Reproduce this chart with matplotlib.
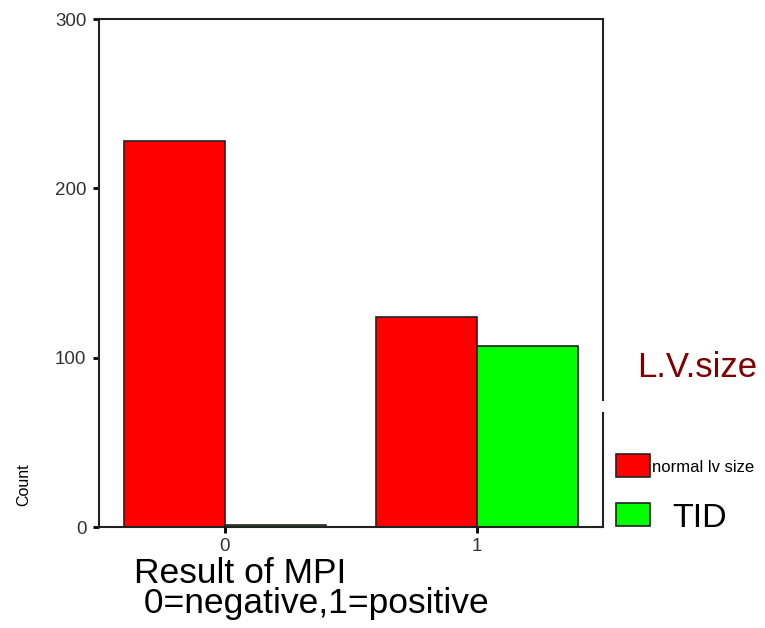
import matplotlib.pyplot as plt
import numpy as np

plt.rcParams['font.family'] = ['Liberation Sans', 'DejaVu Sans']

# data
categories = ['0', '1']
normal_lv = [228, 124]
tid = [1, 107]
series_names = ['normal lv size', 'TID']
series_colors = ['#ff0000', '#00ff00']

fig = plt.figure(figsize=(7.65, 6.28), dpi=100)
ax = fig.add_axes([0.1294, 0.1608, 0.6588, 0.8089])

x = np.arange(len(categories))
w = 0.4
ax.bar(x - w / 2, normal_lv, w, color=series_colors[0], edgecolor='#222222', linewidth=1.2)
ax.bar(x + w / 2, tid, w, color=series_colors[1], edgecolor='#222222', linewidth=1.2)

ax.set_xlim(-0.5, 1.5)
ax.set_ylim(0, 300)
ax.set_xticks(x)
ax.set_xticklabels(categories)
ax.set_yticks([0, 100, 200, 300])
ax.tick_params(direction='out', length=4, width=2, labelsize=13.5, colors='black',
               labelcolor='#333333', pad=5)
ax.tick_params(axis='x', pad=4)

for side in ['left', 'bottom', 'top']:
    ax.spines[side].set_linewidth(1.5)
    ax.spines[side].set_color('#222222')
ax.spines['right'].set_visible(False)
# right border has a small gap next to the legend title
ax.plot([1, 1], [0, 1 - 394 / 508], transform=ax.transAxes, color='#222222', lw=1.5, clip_on=False)
ax.plot([1, 1], [1 - 381 / 508, 1], transform=ax.transAxes, color='#222222', lw=1.5, clip_on=False)

fig.text(0.031, 0.229, 'Count', rotation=90, fontsize=11.5, ha='center', va='center')
# x axis title, two lines
fig.text(0.175, 1 - 613 / 628, 'Result of MPI\n 0=negative,1=positive', fontsize=25.5,
         ha='left', va='baseline', linespacing=0.88, multialignment='left')

# legend drawn by hand to match the mixed font sizes
fig.text(0.833, 1 - 377 / 628, 'L.V.size', fontsize=25, color='#800000', ha='left', va='baseline')
leg_items = [(series_names[0], 454, 12), (series_names[1], 503, 24.5)]
for (name, ytop, fs), col in zip(leg_items, series_colors):
    r = plt.Rectangle((616 / 765, 1 - (ytop + 23) / 628), 34 / 765, 23 / 628,
                      facecolor=col, edgecolor='#222222', lw=1.2, transform=fig.transFigure)
    fig.add_artist(r)
    if fs < 15:
        fig.text(652 / 765, 1 - 472 / 628, name, fontsize=fs, ha='left', va='baseline')
    else:
        fig.text(672 / 765, 1 - 527 / 628, name, fontsize=fs, ha='left', va='baseline')

fig.savefig('out.png', dpi=100)
